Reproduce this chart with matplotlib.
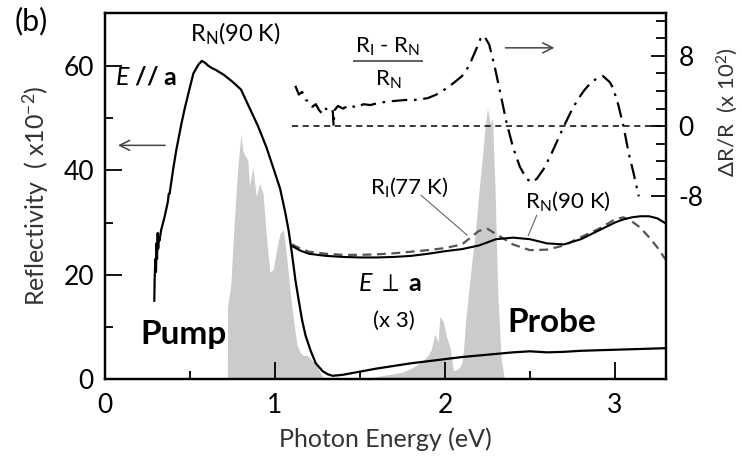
import matplotlib
matplotlib.use('Agg')
from matplotlib import pyplot as plt

plt.rcParams['font.family'] = ['Lato', 'DejaVu Sans']
plt.rcParams['mathtext.fontset'] = 'custom'
plt.rcParams['mathtext.rm'] = 'Lato'
plt.rcParams['mathtext.it'] = 'Lato:italic'
plt.rcParams['mathtext.default'] = 'regular'

# E // a, R_N(90 K)  (reflectivity x10^-2)
para_e = [0.29, 0.292, 0.296, 0.30, 0.303, 0.306, 0.31, 0.313, 0.316, 0.32, 0.33, 0.35,
          0.37, 0.375, 0.38, 0.40, 0.42, 0.45, 0.47, 0.50, 0.52, 0.55, 0.57, 0.59, 0.61,
          0.63, 0.65, 0.70, 0.75, 0.80, 0.85, 0.90, 0.95, 1.00, 1.03, 1.06, 1.08, 1.10,
          1.12, 1.14, 1.16, 1.18, 1.21, 1.24, 1.28, 1.31, 1.34, 1.40, 1.50, 1.60, 1.70,
          1.80, 1.90, 2.00, 2.10, 2.20, 2.30, 2.40, 2.50, 2.60, 2.70, 2.80, 2.90, 3.00,
          3.10, 3.20, 3.30]
para_r = [15, 19, 23, 20.5, 26, 23, 28, 25, 27, 26.5, 28.5, 31,
          34, 35.5, 35.5, 40, 44, 49, 52, 56, 58.6, 60.3, 61, 60.6, 60.0,
          59.6, 59.3, 58.3, 57, 55.5, 52, 48.5, 44.4, 39.5, 36.5, 32, 28.5, 24,
          19, 15, 11.2, 8.3, 5.4, 3.0, 1.5, 0.9, 0.6, 0.8, 1.4, 2.0, 2.5,
          3.0, 3.4, 3.8, 4.2, 4.5, 4.8, 5.1, 5.3, 5.1, 5.2, 5.4, 5.5, 5.6,
          5.7, 5.8, 5.9]

# E perp a (x3): R_N(90 K) solid, R_I(77 K) dashed
perp_e = [1.10, 1.15, 1.20, 1.30, 1.40, 1.50, 1.60, 1.70, 1.80, 1.90, 2.00, 2.10, 2.20,
          2.25, 2.30, 2.40, 2.50, 2.60, 2.70, 2.80, 2.90, 3.00, 3.05, 3.10, 3.15, 3.20,
          3.25, 3.30]
perp_rn = [25.5, 24.6, 24.0, 23.6, 23.4, 23.3, 23.3, 23.4, 23.6, 24.0, 24.5, 24.9, 25.6,
           26.2, 26.8, 27.1, 26.8, 26.0, 25.8, 26.8, 28.4, 30.0, 30.6, 31.0, 31.2, 31.2,
           30.8, 29.8]
perp_ri = [25.8, 25.0, 24.4, 24.0, 23.8, 23.8, 23.9, 24.1, 24.4, 24.7, 25.1, 25.8, 28.4,
           28.8, 27.8, 25.8, 24.7, 24.8, 25.6, 27.2, 28.7, 30.6, 31.0, 30.2, 29.0, 27.2,
           25.2, 22.8]

# (R_I - R_N)/R_N  (x10^2)
dr_e = [1.12, 1.14, 1.16, 1.18, 1.20, 1.22, 1.24, 1.26, 1.28, 1.30, 1.32, 1.34, 1.345,
        1.35, 1.37, 1.40, 1.44, 1.48, 1.52, 1.56, 1.60, 1.66, 1.72, 1.78, 1.84, 1.90,
        1.95, 2.00, 2.05, 2.10, 2.14, 2.18, 2.21, 2.23, 2.26, 2.29, 2.32, 2.36, 2.40,
        2.44, 2.48, 2.51, 2.54, 2.58, 2.62, 2.66, 2.70, 2.74, 2.78, 2.82, 2.86, 2.90,
        2.93, 2.97, 2.99, 3.02, 3.05, 3.08, 3.11, 3.14]
dr_v = [4.6, 3.6, 3.9, 3.0, 2.8, 2.2, 2.5, 1.8, 1.4, 2.0, 1.5, 1.7, 0.0,
        1.8, 2.3, 2.0, 2.4, 2.1, 2.5, 2.4, 2.6, 2.8, 2.9, 3.0, 3.0, 3.2,
        3.6, 4.2, 4.9, 5.7, 6.8, 8.6, 10.0, 10.3, 9.3, 7.0, 4.3, 0.6, -2.4,
        -4.6, -6.0, -6.4, -6.0, -4.9, -3.4, -1.7, 0.0, 1.6, 3.0, 4.1, 5.0, 5.5,
        5.7, 5.0, 4.3, 2.4, 0.0, -3.0, -5.4, -8.0]

# pump and probe spectra (arb., drawn on reflectivity scale)
pump_e = [0.72, 0.721, 0.74, 0.75, 0.76, 0.78, 0.80, 0.81, 0.82, 0.84, 0.85, 0.87, 0.89,
          0.91, 0.93, 0.95, 0.97, 0.99, 1.01, 1.03, 1.05, 1.07, 1.09, 1.11, 1.13, 1.15,
          1.17, 1.19, 1.22, 1.24, 1.26, 1.28, 1.30]
pump_i = [0, 13.7, 18, 24, 30, 40, 47, 44, 43, 42, 37, 40.5, 35,
          37.5, 35.5, 27, 20.5, 21, 25, 28, 28.5, 23, 16.5, 11, 6.5, 5,
          4.5, 4.5, 3.5, 3.0, 1.5, 0.5, 0]
probe_e = [1.50, 1.60, 1.70, 1.75, 1.80, 1.84, 1.87, 1.90, 1.92, 1.94, 1.96, 1.97, 1.99,
           2.01, 2.03, 2.05, 2.08, 2.10, 2.11, 2.12, 2.14, 2.16, 2.18, 2.20, 2.22, 2.235,
           2.25, 2.265, 2.28, 2.295, 2.31, 2.33, 2.35]
probe_i = [0, 0.5, 1.0, 1.3, 2.0, 2.8, 3.5, 4.5, 5.7, 8.6, 7, 12, 11,
           8, 6, 1.5, 2.0, 3, 6, 10.6, 17, 23, 28.5, 36, 42.5, 48,
           52, 49, 50, 36, 17, 4, 0]

fig = plt.figure(figsize=(7.42, 4.61), dpi=100)
ax = fig.add_axes([0.1415, 0.178, 0.756, 0.794])
ax2 = ax.twinx()

ax.fill_between(pump_e, pump_i, 0, color='#cbcbcb', lw=0, zorder=1)
ax.fill_between(probe_e, probe_i, 0, color='#cbcbcb', lw=0, zorder=1)
ax.plot(para_e, para_r, color='k', lw=1.6, zorder=3)
ax.plot(perp_e, perp_ri, color='#555555', lw=1.6, ls=(0, (4, 2.5)), zorder=3)
ax.plot(perp_e, perp_rn, color='k', lw=1.5, zorder=3)

ax2.axhline(0, xmin=1.1 / 3.3, xmax=1, color='k', lw=1.1, ls=(0, (4, 3)))
ax2.plot(dr_e, dr_v, color='k', lw=1.6, ls=(0, (7, 3, 1.2, 3)))

ax.set_xlim(0, 3.3)
ax.set_ylim(0, 70.2)
ax2.set_ylim(-28.8, 12.9)

ax.set_xticks([0, 1, 2, 3])
ax.set_xticks([0.5, 1.5, 2.5], minor=True)
ax.set_yticks([0, 20, 40, 60])
ax.set_yticks([10, 30, 50], minor=True)
ax2.set_yticks([-8, 0, 8])
ax2.set_yticks([-6, -4, -2, 2, 4, 6, 10, 12], minor=True)
ax2.set_yticklabels(['-8', '0', '8'])

ax.tick_params(which='both', direction='in', labelsize=19, width=1.3, pad=8)
ax.tick_params(which='major', length=12)
ax.tick_params(which='minor', length=6)
ax.tick_params(axis='x', which='major', pad=10)
ax2.tick_params(which='both', direction='in', labelsize=19, width=1.3, pad=9)
ax2.tick_params(which='major', length=11)
ax2.tick_params(which='minor', length=7)
for a in (ax, ax2):
    for s in a.spines.values():
        s.set_linewidth(1.6)

ax.set_xlabel('Photon Energy (eV)', fontsize=18, color='#333333', labelpad=7)
ax.set_ylabel('Reflectivity  ( x10$^{-2}$)', fontsize=18, color='#333333', labelpad=9)
ax2.set_ylabel('ΔR/R  (x 10$^{2}$)', fontsize=16, color='#333333')
ax2.yaxis.set_label_coords(1.086, 0.73)

fig.text(0.02, 0.955, '(b)', fontsize=22, va='center')

ax.text(0.77, 66.2, 'R$_N$(90 K)', fontsize=17, ha='center', va='center')
ax.text(0.06, 58.0, r'$\it{E}$ // a', fontsize=18, ha='left', va='center',
        fontweight='bold')
ax.annotate('', xy=(0.06, 44.8), xytext=(0.37, 44.8),
            arrowprops=dict(arrowstyle='->', lw=1.1, color='#444444', mutation_scale=18))

ax.text(1.665, 63.6, 'R$_I$ - R$_N$', fontsize=16, ha='center', va='center')
ax.hlines(60.9, 1.46, 1.87, color='#444444', lw=1.2)
ax.text(1.665, 57.3, 'R$_N$', fontsize=16, ha='center', va='center')
ax.annotate('', xy=(2.66, 63.5), xytext=(2.34, 63.5),
            arrowprops=dict(arrowstyle='->', lw=1.1, color='#444444', mutation_scale=18))

ax.text(1.56, 36.7, 'R$_I$(77 K)', fontsize=16, ha='left', va='center')
ax.plot([1.86, 2.13], [35.2, 27.6], color='#666666', lw=0.8)
ax.text(2.47, 34.0, 'R$_N$(90 K)', fontsize=16, ha='left', va='center')
ax.plot([2.54, 2.49], [31.4, 27.5], color='#666666', lw=0.8)

ax.text(1.68, 18.3, r'$\it{E}$ $\perp$ a', fontsize=18, ha='center', va='center',
        fontweight='bold')
ax.text(1.70, 11.2, '(x 3)', fontsize=16, ha='center', va='center')
ax.text(0.46, 8.6, 'Pump', fontsize=24, ha='center', va='center', fontweight='bold')
ax.text(2.63, 10.9, 'Probe', fontsize=24, ha='center', va='center', fontweight='bold')

fig.savefig('out.png', dpi=100)
